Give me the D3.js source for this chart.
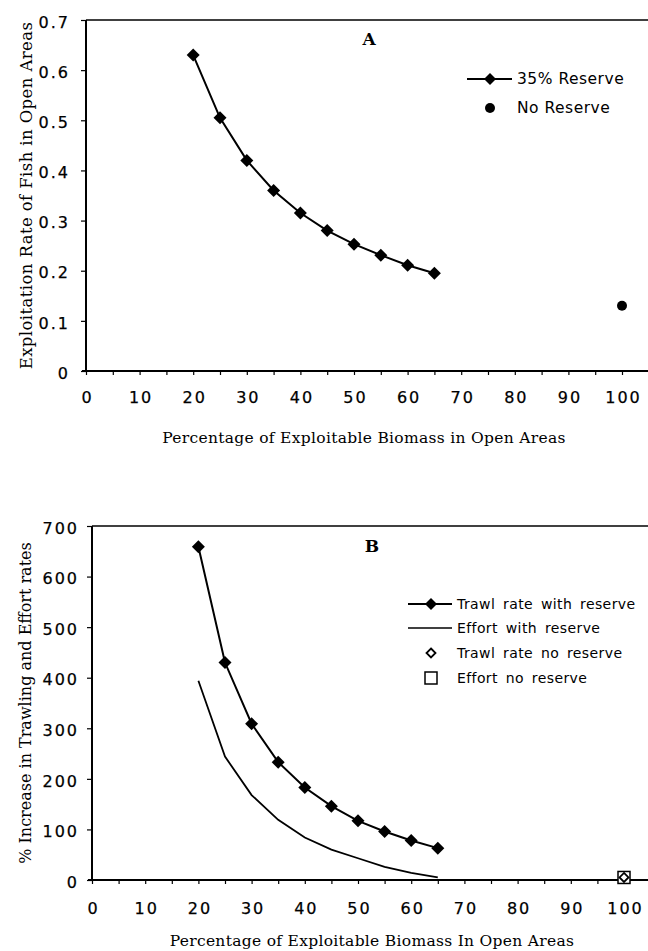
<!DOCTYPE html>
<html><head><meta charset="utf-8">
<script src="https://cdn.jsdelivr.net/npm/d3@7"></script>
<style>
html,body{margin:0;padding:0;background:#fff;}
svg{display:block;}
</style></head>
<body>
<svg id="c" width="648" height="951"></svg>
<script>
// ---- Data ----
const pctOpen = [20,25,30,35,40,45,50,55,60,65];
const exploitReserve = [0.63,0.505,0.42,0.36,0.315,0.28,0.253,0.231,0.211,0.195];
const exploitNoReserve = [{x:100,y:0.13}];
const trawlReserve = [659,430,309,233,183,146,117,96,78,63];
const effortReserve = [394,244,168,119,84,60,43,26,14,5];
const trawlNoReserve = [{x:100,y:5}];
const effortNoReserve = [{x:100,y:5}];
const xTicks = [0,10,20,30,40,50,60,70,80,90,100];
const xMinorTicks = [0,5,10,15,20,25,30,35,40,45,50,55,60,65,70,75,80,85,90,95,100];
const yTicksA = [0,0.1,0.2,0.3,0.4,0.5,0.6,0.7];
const yTicksB = [0,100,200,300,400,500,600,700];

const svg = d3.select("#c");
const SANS = '"DejaVu Sans",Arial,sans-serif';
const SERIF = '"DejaVu Serif",serif';

function diamondPath(r){ return `M0,${-r}L${r},0L0,${r}L${-r},0Z`; }

function panel(o){
  const g = svg.append("g");
  const x = d3.scaleLinear().domain([0,100]).range([o.x0,o.x1]);
  const y = d3.scaleLinear().domain(o.ydom).range([o.yb,o.yt]);
  // top border
  g.append("line").attr("x1",o.x0).attr("x2",648).attr("y1",o.yt).attr("y2",o.yt)
    .attr("stroke","#000").attr("stroke-width",1.6);
  // x axis ticks (every 5)
  const xa = g.append("g").attr("transform",`translate(0,${o.yb})`)
    .call(d3.axisBottom(x).tickValues(xMinorTicks).tickSize(4).tickFormat(""));
  xa.select(".domain").remove();
  xa.selectAll(".tick line").attr("stroke-width",1.2);
  // x labels
  const xl = g.append("g").attr("transform",`translate(0,${o.yb})`)
    .call(d3.axisBottom(x).tickValues(xTicks).tickSize(0).tickPadding(o.xlabPad));
  xl.select(".domain").remove();
  xl.selectAll("text").attr("font-size",16).attr("font-family",SANS).attr("fill","#000")
    .attr("stroke","#000").attr("stroke-width",0.25)
    .style("letter-spacing","2px").attr("dx","1px");
  // x axis line to right edge
  g.append("line").attr("x1",o.x0-4).attr("x2",648).attr("y1",o.yb).attr("y2",o.yb)
    .attr("stroke","#000").attr("stroke-width",2);
  // y axis
  const ya = g.append("g").attr("transform",`translate(${o.x0},0)`)
    .call(d3.axisLeft(y).tickValues(o.yticks).tickSize(5).tickPadding(o.ylabPad).tickFormat(o.yfmt));
  ya.select(".domain").attr("stroke-width",2).attr("d",`M0,${o.yt}V${o.yb}`);
  ya.selectAll(".tick line").attr("stroke-width",1.2);
  ya.selectAll("text").attr("font-size",16).attr("font-family",SANS).attr("fill","#000")
    .attr("stroke","#000").attr("stroke-width",0.25)
    .style("letter-spacing","2px").attr("dy","0.45em");
  // titles
  g.append("text").attr("transform",`translate(${o.ytx},${(o.yt+o.yb)/2}) rotate(-90)`)
    .attr("text-anchor","middle").attr("font-family",SERIF).attr("font-size",o.ytFs)
    .style("letter-spacing",o.ytLs).text(o.ytitle);
  g.append("text").attr("x",o.xtx).attr("y",o.xty).attr("text-anchor","middle")
    .attr("font-family",SERIF).attr("font-size",15.5).style("letter-spacing","0.3px").text(o.xtitle);
  g.append("text").attr("x",o.lx).attr("y",o.ly).attr("text-anchor","middle")
    .attr("font-family",SERIF).attr("font-weight","bold").attr("font-size",17).text(o.letter);
  return {g,x,y};
}

// ---------- Panel A ----------
const A = panel({x0:86,x1:622,yt:20,yb:371,ydom:[0,0.7],yticks:yTicksA,
  yfmt:d=>d===0?"0":d3.format(".1f")(d), xlabPad:21, ylabPad:11,
  ytitle:"Exploitation Rate of Fish in Open Areas", ytx:32, ytFs:16.5, ytLs:"0.4px",
  xtitle:"Percentage of Exploitable Biomass in Open Areas", xtx:364, xty:443,
  letter:"A", lx:369, ly:45});
const lineA = d3.line().x((d,i)=>A.x(pctOpen[i])).y(d=>A.y(d));
A.g.append("path").datum(exploitReserve).attr("d",lineA).attr("fill","none")
  .attr("stroke","#000").attr("stroke-width",2);
A.g.selectAll(".mA").data(exploitReserve).join("path")
  .attr("transform",(d,i)=>`translate(${A.x(pctOpen[i])},${A.y(d)})`)
  .attr("d",diamondPath(6.5)).attr("fill","#000");
A.g.selectAll(".nA").data(exploitNoReserve).join("circle")
  .attr("cx",d=>A.x(d.x)).attr("cy",d=>A.y(d.y)).attr("r",5).attr("fill","#000");
// legend A
A.g.append("line").attr("x1",467).attr("x2",512).attr("y1",79).attr("y2",79)
  .attr("stroke","#000").attr("stroke-width",2);
A.g.append("path").attr("transform","translate(490,79)").attr("d",diamondPath(6)).attr("fill","#000");
A.g.append("text").attr("x",517).attr("y",84).attr("font-family",SANS).attr("font-size",15.5)
  .style("letter-spacing","0.5px").text("35% Reserve");
A.g.append("circle").attr("cx",490).attr("cy",108).attr("r",5).attr("fill","#000");
A.g.append("text").attr("x",517).attr("y",113).attr("font-family",SANS).attr("font-size",15.5)
  .style("letter-spacing","0.5px").text("No Reserve");

// ---------- Panel B ----------
const B = panel({x0:92,x1:624,yt:526,yb:880,ydom:[0,700],yticks:yTicksB,
  yfmt:d3.format("d"), xlabPad:23, ylabPad:8,
  ytitle:"% Increase in Trawling and Effort rates", ytx:31, ytFs:16, ytLs:"0px",
  xtitle:"Percentage of Exploitable Biomass In Open Areas", xtx:372, xty:946,
  letter:"B", lx:372, ly:552});
const lineB = d3.line().x((d,i)=>B.x(pctOpen[i])).y(d=>B.y(d));
B.g.append("path").datum(effortReserve).attr("d",lineB).attr("fill","none")
  .attr("stroke","#000").attr("stroke-width",1.8);
B.g.append("path").datum(trawlReserve).attr("d",lineB).attr("fill","none")
  .attr("stroke","#000").attr("stroke-width",2);
B.g.selectAll(".mB").data(trawlReserve).join("path")
  .attr("transform",(d,i)=>`translate(${B.x(pctOpen[i])},${B.y(d)})`)
  .attr("d",diamondPath(6.5)).attr("fill","#000");
B.g.selectAll(".eB").data(effortNoReserve).join("rect")
  .attr("x",d=>B.x(d.x)-6).attr("y",d=>B.y(d.y)-6).attr("width",12).attr("height",12)
  .attr("fill","#fff").attr("stroke","#000").attr("stroke-width",1.5);
B.g.selectAll(".tB").data(trawlNoReserve).join("path")
  .attr("transform",d=>`translate(${B.x(d.x)},${B.y(d.y)})`)
  .attr("d",diamondPath(4.5)).attr("fill","#fff").attr("stroke","#000").attr("stroke-width",1.8);
// legend B
const LB = [604,628,653,678];
B.g.append("line").attr("x1",408).attr("x2",452).attr("y1",LB[0]).attr("y2",LB[0])
  .attr("stroke","#000").attr("stroke-width",2);
B.g.append("path").attr("transform",`translate(431,${LB[0]})`).attr("d",diamondPath(6)).attr("fill","#000");
B.g.append("line").attr("x1",408).attr("x2",452).attr("y1",LB[1]).attr("y2",LB[1])
  .attr("stroke","#000").attr("stroke-width",1.6);
B.g.append("path").attr("transform",`translate(431,${LB[2]})`).attr("d",diamondPath(4.5))
  .attr("fill","#fff").attr("stroke","#000").attr("stroke-width",1.8);
B.g.append("rect").attr("x",425).attr("y",LB[3]-6).attr("width",12).attr("height",12)
  .attr("fill","#fff").attr("stroke","#000").attr("stroke-width",1.5);
const legB = ["Trawl rate with reserve","Effort with reserve","Trawl rate no reserve","Effort no reserve"];
legB.forEach((t,i)=>{
  B.g.append("text").attr("x",457).attr("y",LB[i]+5).attr("font-family",SANS).attr("font-size",14)
    .style("word-spacing","3px").style("letter-spacing","0.4px").text(t);
});
</script>
</body></html>
